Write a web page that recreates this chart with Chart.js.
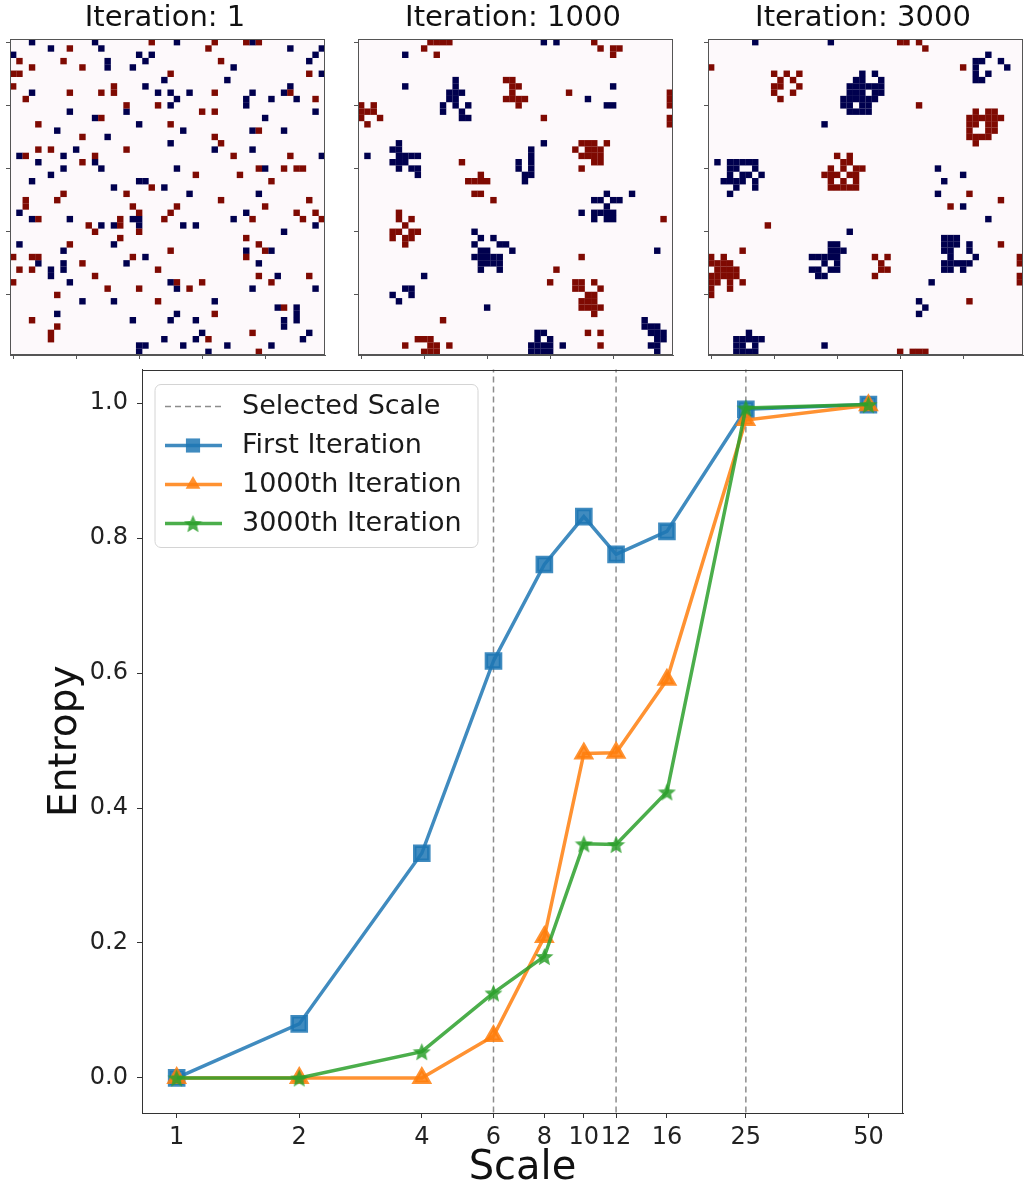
<!DOCTYPE html>
<html>
<head>
<meta charset="utf-8">
<script src="https://cdn.jsdelivr.net/npm/chart.js@4.4.0/dist/chart.umd.min.js"></script>
<style>
    body { margin: 0; background: #fff; width: 1029px; height: 1195px; overflow: hidden; position: relative; }
    .box { position: absolute; }
</style>
</head>
<body>
<div class="box" style="left:4px;top:0;width:324px;height:361px"><canvas id="map1"></canvas></div>
<div class="box" style="left:352px;top:0;width:324px;height:361px"><canvas id="map2"></canvas></div>
<div class="box" style="left:702px;top:0;width:324px;height:361px"><canvas id="map3"></canvas></div>
<div class="box" style="left:0;top:356px;width:1029px;height:839px"><canvas id="entropyChart"></canvas></div>
<script>
// ---- line chart data ----
const scales = [1, 2, 4, 6, 8, 10, 12, 16, 25, 50];
const selectedScales = [6, 12, 25];
const firstIteration = [0.0, 0.08, 0.333, 0.618, 0.761, 0.832, 0.776, 0.810, 0.991, 0.998];
const iteration1000 = [0.0, 0.0, 0.0, 0.062, 0.209, 0.481, 0.482, 0.590, 0.975, 0.997];
const iteration3000 = [0.0, 0.0, 0.039, 0.126, 0.180, 0.347, 0.346, 0.424, 0.993, 0.998];
const yTicks = [0, 0.2, 0.4, 0.6, 0.8, 1.0];

// ---- grid snapshots: [row, [columns]] ----
const panelTitles = ['Iteration: 1', 'Iteration: 1000', 'Iteration: 3000'];
const gridSize = 50;
const gridTicks = [0, 10, 20, 30, 40];

const iter1Red = [[0,[22,32,37,39]],[1,[9,31]],[3,[1,8,33]],[4,[3,11]],[5,[0,1,25,47]],[7,[0,16]],
    [8,[9,14,16,32,44]],[9,[2,48]],[10,[18,23]],[11,[30,32]],[12,[14]],[13,[4,25]],[14,[39]],[15,[11,32]],
    [16,[33]],[17,[4,6,18]],[18,[2,13,35,44]],[19,[11]],[20,[39,43,45,46]],[21,[29,36]],[22,[41]],[23,[22]],
    [24,[8,18]],[25,[2,7,33,47]],[26,[2,19,26,40]],[27,[20,25,45,48]],[28,[4,17,24,38,46,49]],[29,[12,17]],
    [30,[13,20]],[31,[17,37]],[32,[9,39]],[33,[25,40]],[34,[0,3,4,19,37]],[35,[11]],[36,[1,3,23]],
    [37,[13,39,47]],[38,[0,26,30,41]],[39,[15,20,28]],[40,[7]],[41,[23]],[42,[43]],[43,[32]],[44,[3]],
    [45,[7]],[46,[6,38]],[47,[6,31]],[49,[39]]];
const iter1Blue = [[0,[3,13,26,38]],[1,[6,14,44,49]],[2,[0,20,22,48]],[3,[15,21,47]],[4,[15,19,35]],[5,[49]],
    [6,[24,34]],[7,[21,44]],[8,[3,23,25,28,38,43]],[9,[26,37,41,45]],[10,[25,37]],[11,[9,18,48]],[12,[13,40]],
    [13,[20]],[14,[7,27,38,43]],[15,[15]],[16,[25]],[17,[10,32,38]],[18,[1,8,49]],[19,[4,13]],[20,[8,14,26,40]],
    [21,[6]],[22,[3,20,21]],[23,[16,24]],[24,[28,39]],[27,[1,37]],[28,[3,9,19,20,35]],[29,[14,16,20,27,29,48]],
    [30,[43]],[32,[1,16]],[33,[8,37,41]],[34,[21]],[35,[4,8,18,39]],[36,[6,8]],[37,[6,42]],[38,[9,25]],
    [39,[26,38,48]],[41,[11,16,32]],[42,[42,45]],[43,[7,26,45]],[44,[19,25,29,43,45]],[45,[43]],[46,[30,47]],
    [47,[24,29,46]],[48,[20,21,27,34,41]],[49,[20,31]]];

const iter1000Red = [[0,[11,12,13,14,37]],[1,[10,38,40,41]],[2,[12,40]],[6,[23,24]],[7,[24,25]],[8,[24,33,49]],
    [9,[23,24,25,26,49]],[10,[0,2,25,49]],[11,[0,1,2]],[12,[0,3,29,49]],[13,[1,49]],[16,[35,36,37,39]],
    [17,[34,36,37,38]],[18,[35,36,37,38]],[19,[16,37,38]],[20,[35]],[21,[19]],[22,[17,18,19,20]],[24,[18,19]],
    [25,[21]],[27,[6]],[28,[6,8,48]],[29,[7]],[30,[5,6,8,9]],[31,[5,7,8]],[32,[7]],[34,[35]],[36,[31]],
    [38,[30,34,35,37]],[39,[34,35,38]],[40,[36,37]],[41,[35,36,37]],[42,[35,36,37,38]],[43,[37]],[44,[13]],
    [46,[36,38]],[47,[9,10,11]],[48,[7,11,12,14,38]],[49,[10,11,12]]];
const iter1000Blue = [[0,[29,31]],[2,[7]],[6,[15]],[7,[7,15,40]],[8,[14,15,16]],[9,[14,15,36]],
    [10,[13,15,17,39,40]],[11,[13,16]],[12,[16,17]],[16,[6,29]],[17,[5,6,27]],[18,[1,6,7,8,9,27]],
    [19,[5,6,7,25,27]],[20,[6,8,9,25,27]],[21,[9,26,27]],[22,[26]],[24,[39,43]],[25,[37,38,40,41]],[26,[39]],
    [27,[35,37,38,39,40]],[28,[37,39,40]],[30,[18]],[31,[19,21]],[32,[18,22,23]],[33,[19,20,24,47]],
    [34,[18,19,20,21,22]],[35,[19,20,21,22]],[36,[19,22]],[37,[10]],[39,[7,8]],[40,[5,8]],[41,[6]],[42,[20]],
    [44,[45]],[45,[45,46,47]],[46,[28,29,46,47,48]],[47,[28,30,47,48]],[48,[27,28,29,30,32,46,47]],
    [49,[27,28,29,30,47]]];

const iter3000Red = [[0,[30,31,33]],[1,[34]],[4,[0,40]],[5,[10,12,14]],[6,[11,13]],[7,[10,11,14]],[8,[10,13]],
    [9,[11]],[10,[33]],[11,[42,44,45]],[12,[41,42,43,44,45,46]],[13,[41,42,44,45]],[14,[41,44,45]],
    [15,[41,42,43,44]],[16,[42]],[18,[20,22]],[19,[21,22]],[20,[19,21,23,24]],[21,[18,19,20,22,23]],
    [22,[19,21,23]],[23,[19,20,21,22,23]],[24,[41]],[25,[46]],[26,[38]],[29,[9]],[32,[46]],[33,[5]],
    [34,[0,2,26,28,49]],[35,[0,1,2,3,27,49]],[36,[1,2,3,4,27,28]],[37,[0,1,2,3,4,26,49]],[38,[0,1,3,5,49]],
    [39,[0,3]],[40,[0]],[41,[41]],[49,[30,32,33,34]]];
const iter3000Blue = [[0,[7,19]],[2,[44]],[3,[42,43,46]],[4,[42,47]],[5,[24,26,42,44]],[6,[23,24,27,42,43]],
    [7,[22,23,24,25,26,27]],[8,[22,23,24,26,27]],[9,[21,22,23,24,25,26]],[10,[21,22,24,25]],[11,[22,23,24,25]],
    [13,[18]],[19,[1,3,4,5,6,7]],[20,[3,4,7,36]],[21,[3,5,6,8,40]],[22,[2,3,4,5,7,37]],[23,[4,7]],[24,[3,36]],
    [26,[40]],[28,[44]],[30,[22]],[31,[37,38,39]],[32,[19,20,37,38,39,41]],[33,[19,20,21,37,38,41]],
    [34,[16,17,18,19,20,38,42]],[35,[18,20,37,38,39,40,41]],[36,[16,17,19,20,37,38,40]],[37,[17,18]],
    [38,[35]],[41,[33]],[42,[34]],[43,[33]],[46,[6]],[47,[4,5,6,7,8]],[48,[4,5,7,18]],[49,[4,5,6,7]]];

const fontFamily = "'DejaVu Sans', sans-serif";
Chart.defaults.font.family = fontFamily;
Chart.defaults.animation = false;

const framePlugin = {
    id: 'frame',
    beforeDatasetsDraw(chart, args, opts) {
        if (!opts.fill) return;
        const a = chart.chartArea;
        chart.ctx.save();
        chart.ctx.fillStyle = opts.fill;
        chart.ctx.fillRect(a.left, a.top, a.right - a.left, a.bottom - a.top);
        chart.ctx.restore();
    },
    afterDraw(chart, args, opts) {
        const a = chart.chartArea;
        const ctx = chart.ctx;
        ctx.save();
        ctx.strokeStyle = opts.color || '#333';
        ctx.lineWidth = 1;
        ctx.strokeRect(Math.round(a.left) + 0.5, Math.round(a.top) + 0.5,
            Math.round(a.right - a.left) - 1, Math.round(a.bottom - a.top) - 1);
        ctx.restore();
    }
};

function toCells(rows) {
    return rows.flatMap(([r, cols]) => cols.map(c => ({x: c + 0.5, y: r + 0.5})));
}

function cellRadius(ctx) {
    const a = ctx.chart.chartArea;
    return a ? (a.right - a.left) / gridSize / Math.SQRT2 * 1.02 : 3;
}

function drawGrid(id, title, red, blue) {
    const axis = {
        type: 'linear', min: 0, max: gridSize,
        grid: {drawOnChartArea: false, tickLength: 4, color: '#555'},
        border: {color: '#555'},
        ticks: {display: false},
        afterBuildTicks: s => { s.ticks = gridTicks.map(v => ({value: v + 0.5})); }
    };
    new Chart(document.getElementById(id), {
        type: 'scatter',
        data: {
            datasets: [
                {data: toCells(red), backgroundColor: '#7f0a02'},
                {data: toCells(blue), backgroundColor: '#00004e'}
            ].map(d => Object.assign(d, {pointStyle: 'rect', pointRadius: cellRadius, borderWidth: 0, pointHoverRadius: cellRadius}))
        },
        options: {
            responsive: true,
            maintainAspectRatio: false,
            events: [],
            layout: {padding: {top: 0, right: 2, left: 0, bottom: 0}},
            scales: {
                x: Object.assign({}, axis, {position: 'bottom', afterFit: s => { s.height = 6; }}),
                y: Object.assign({}, axis, {reverse: true, afterFit: s => { s.width = 6; }})
            },
            plugins: {
                legend: {display: false},
                tooltip: {enabled: false},
                title: {display: true, text: title, color: '#111', font: {size: 29, weight: 'normal'}, padding: {top: 1, bottom: 3.2}},
                frame: {fill: '#fdf9fb', color: '#555'}
            }
        },
        plugins: [framePlugin]
    });
}

drawGrid('map1', panelTitles[0], iter1Red, iter1Blue);
drawGrid('map2', panelTitles[1], iter1000Red, iter1000Blue);
drawGrid('map3', panelTitles[2], iter3000Red, iter3000Blue);

// ---- entropy vs scale ----
function makeStar(color, size) {
    const c = document.createElement('canvas');
    c.width = c.height = size;
    const g = c.getContext('2d');
    const R = size / 2, r = R * 0.45;
    g.beginPath();
    for (let i = 0; i < 10; i++) {
        const ang = -Math.PI / 2 + i * Math.PI / 5;
        const rad = i % 2 ? r : R;
        g.lineTo(R + rad * Math.cos(ang), R + 1 + rad * Math.sin(ang));
    }
    g.closePath();
    g.fillStyle = color;
    g.fill();
    return c;
}

const blue = 'rgba(31,119,180,0.85)';
const orange = 'rgba(255,127,14,0.85)';
const green = 'rgba(44,160,44,0.85)';

function series(values) {
    return scales.map((s, i) => ({x: s, y: values[i]}));
}

const selectedLines = selectedScales.flatMap(s => [{x: s, y: -1}, {x: s, y: 2}, {x: s, y: null}]);

const legendPlugin = {
    id: 'insideLegend',
    afterDatasetsDraw(chart) {
        const {ctx, chartArea} = chart;
        const x0 = chartArea.left + 13, y0 = chartArea.top + 15;
        const w = 323, h = 163, rr = 6;
        ctx.save();
        ctx.beginPath();
        ctx.moveTo(x0 + rr, y0);
        ctx.arcTo(x0 + w, y0, x0 + w, y0 + h, rr);
        ctx.arcTo(x0 + w, y0 + h, x0, y0 + h, rr);
        ctx.arcTo(x0, y0 + h, x0, y0, rr);
        ctx.arcTo(x0, y0, x0 + w, y0, rr);
        ctx.closePath();
        ctx.fillStyle = 'rgba(255,255,255,0.85)';
        ctx.fill();
        ctx.strokeStyle = '#d4d4d4';
        ctx.lineWidth = 1;
        ctx.stroke();
        chart.data.datasets.forEach((ds, i) => {
            const y = y0 + 22 + i * 39;
            ctx.beginPath();
            ctx.setLineDash(ds.borderDash || []);
            ctx.strokeStyle = ds.borderColor;
            ctx.lineWidth = ds.borderWidth;
            ctx.moveTo(x0 + 10, y);
            ctx.lineTo(x0 + 67, y);
            ctx.stroke();
            ctx.setLineDash([]);
            if (ds.pointRadius > 0) {
                ctx.fillStyle = ds.backgroundColor;
                Chart.helpers.drawPoint(ctx, {pointStyle: ds.pointStyle, radius: ds.pointRadius, borderWidth: 0, rotation: 0}, x0 + 38, y);
            }
            ctx.fillStyle = '#1a1a1a';
            ctx.font = '27px ' + fontFamily;
            ctx.textBaseline = 'middle';
            ctx.fillText(ds.label, x0 + 87, y);
        });
        ctx.restore();
    }
};

new Chart(document.getElementById('entropyChart'), {
    type: 'line',
    data: {
        datasets: [
            {label: 'Selected Scale', data: selectedLines, borderColor: '#8c8c8c', borderWidth: 1.5, borderDash: [6, 4],
                pointRadius: 0, spanGaps: false, order: 4},
            {label: 'First Iteration', data: series(firstIteration), borderColor: blue, backgroundColor: blue,
                borderWidth: 3.5, pointStyle: 'rect', pointRadius: 10, order: 3},
            {label: '1000th Iteration', data: series(iteration1000), borderColor: orange, backgroundColor: orange,
                borderWidth: 3.5, pointStyle: 'triangle', pointRadius: 8.5, order: 2},
            {label: '3000th Iteration', data: series(iteration3000), borderColor: green, backgroundColor: green,
                borderWidth: 3.5, pointStyle: makeStar(green, 19), pointRadius: 9, order: 1}
        ]
    },
    options: {
        responsive: true,
        maintainAspectRatio: false,
        events: [],
        layout: {padding: {top: 6, right: 126, left: 0, bottom: 0}},
        elements: {line: {tension: 0}, point: {borderWidth: 0}},
        scales: {
            x: {
                type: 'logarithmic', min: 0.822, max: 60.8,
                grid: {drawOnChartArea: false, tickLength: 5, color: '#333'},
                border: {color: '#333'},
                ticks: {autoSkip: false, maxRotation: 0, padding: 5, color: '#222', font: {size: 24}, callback: v => String(v)},
                afterBuildTicks: s => { s.ticks = scales.map(v => ({value: v})); },
                afterFit: s => { s.height = 82; s.paddingLeft = 0; s.paddingRight = 0; },
                title: {display: true, text: 'Scale', color: '#111', font: {size: 40}, padding: {top: 0, bottom: 2}}
            },
            y: {
                type: 'linear', min: -0.052, max: 1.05,
                grid: {drawOnChartArea: false, tickLength: 5, color: '#333'},
                border: {color: '#333'},
                ticks: {padding: 9, color: '#222', font: {size: 24}, callback: v => v.toFixed(1)},
                afterBuildTicks: s => { s.ticks = yTicks.map(v => ({value: v})); },
                afterFit: s => { s.width = 142; s.paddingTop = 0; s.paddingBottom = 0; },
                title: {display: true, text: 'Entropy', color: '#111', font: {size: 39}, padding: {top: 42, bottom: 0}}
            }
        },
        plugins: {
            legend: {display: false},
            tooltip: {enabled: false},
            frame: {color: '#333'}
        }
    },
    plugins: [framePlugin, legendPlugin]
});
</script>
</body>
</html>
